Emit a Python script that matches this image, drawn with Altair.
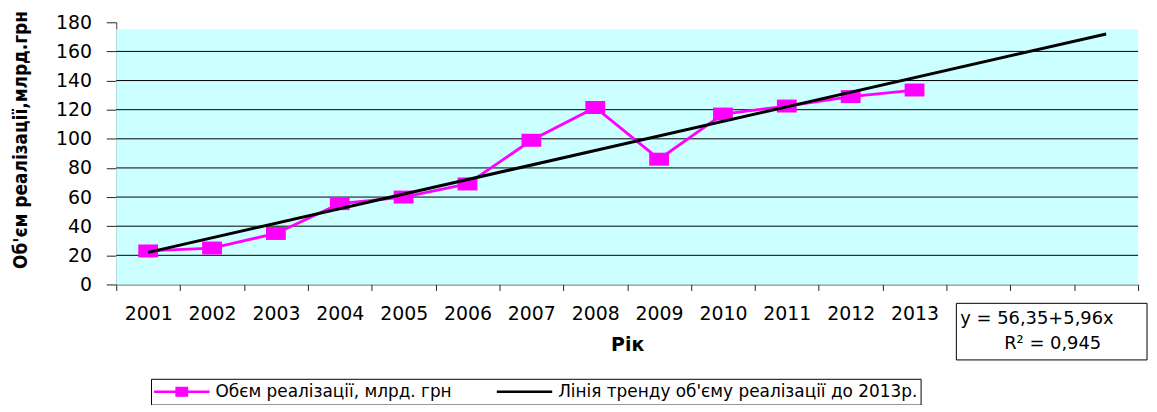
import altair as alt
import pandas as pd

# ---- data ----
years = ["2001", "2002", "2003", "2004", "2005", "2006", "2007", "2008",
         "2009", "2010", "2011", "2012", "2013", "2014", "2015", "2016"]
sale_years = ["2001", "2002", "2003", "2004", "2005", "2006", "2007",
              "2008", "2009", "2010", "2011", "2012", "2013"]
sales = [23, 25, 35, 55.5, 60, 69, 99, 121.5, 86, 117, 122.5, 129, 133.5]
trend_years = ["2001", "2016"]
trend_values = [22, 172]
y_ticks = [0, 20, 40, 60, 80, 100, 120, 140, 160, 180]
grid_values = [20, 40, 60, 80, 100, 120, 140, 160]
series_names = ["Обєм реалізації, млрд. грн",
                "Лінія тренду об'єму реалізації до 2013р."]
eq_line1 = "y = 56,35+5,96x"
eq_line2 = "R² = 0,945"
x_title = "Рік"
y_title = "Об'єм реалізації,млрд.грн"

MAGENTA = "#FF00FF"
W, H = 1029, 264

sales_df = pd.DataFrame({"year": sale_years, "value": sales})
trend_df = pd.DataFrame({"year": trend_years, "value": trend_values})
grid_df = pd.DataFrame({"value": grid_values})
legend_df = pd.DataFrame({"series": series_names})
one = pd.DataFrame({"a": [0]})

x_enc = alt.X(
    "year:O",
    scale=alt.Scale(domain=years, paddingInner=0, paddingOuter=0),
    axis=alt.Axis(
        title=x_title, tickBand="extent", tickSize=6, tickColor="#222222",
        domainColor="#404040", labelAngle=0, labelPadding=14,
        labelFont="DejaVu Sans", labelFontSize=19, labelColor="black",
        labelOverlap=False,
        labelExpr="toNumber(datum.value) <= 2013 ? datum.label : ''",
        grid=False, titleFont="DejaVu Sans", titleFontWeight="bold",
        titleFontSize=19, titleColor="black", titleY=61, titleBaseline="middle",
    ),
)
y_enc = alt.Y(
    "value:Q",
    scale=alt.Scale(domain=[0, 180], nice=False, zero=True),
    axis=alt.Axis(
        title=y_title, values=y_ticks, grid=False, tickSize=10,
        tickColor="#222222", domainColor="#404040", labelPadding=15,
        labelFont="DejaVu Sans", labelFontSize=19, labelColor="black",
        titleFont="Liberation Sans Narrow, DejaVu Sans Condensed, sans-serif",
        titleFontWeight="bold", titleFontSize=19, titleColor="black",
        titleX=-96, titleY=118, titleBaseline="middle", titleAlign="center",
    ),
)

bg = alt.Chart(one).mark_rect(color="#CCFFFF").encode(
    x=alt.value(0), x2=alt.value(W), y=alt.value(7), y2=alt.value(H)
)
grid = alt.Chart(grid_df).mark_rule(color="black", strokeWidth=1).encode(y=y_enc)
line = alt.Chart(sales_df).mark_line(color=MAGENTA, strokeWidth=2.8).encode(x=x_enc, y=y_enc)
pts = alt.Chart(sales_df).mark_point(
    shape="M-1.33,-0.87H1.33V0.87H-1.33Z", filled=True, size=225,
    color=MAGENTA, opacity=1,
).encode(x=x_enc, y=y_enc)
trend = alt.Chart(trend_df).mark_line(color="black", strokeWidth=3).encode(x=x_enc, y=y_enc)

leg = alt.Legend(
    orient="none", legendX=35, legendY=359, direction="horizontal", title=None,
    strokeColor="black", fillColor="white", padding=3, clipHeight=20,
    labelFont="DejaVu Sans", labelFontSize=17, labelColor="black",
    labelLimit=1000, symbolSize=3136, labelOffset=6, columnPadding=45,
    symbolStrokeWidth=0,
)
sym_paths = [
    "M-1,-0.045H1V0.045H-1Z M-0.23,-0.18H0.23V0.18H-0.23Z",
    "M-1,-0.045H1V0.045H-1Z",
]
legend_layer = alt.Chart(legend_df).transform_filter("false").mark_point(
    filled=True, opacity=1
).encode(
    color=alt.Color("series:N", scale=alt.Scale(domain=series_names, range=[MAGENTA, "black"]), legend=leg),
    shape=alt.Shape("series:N", scale=alt.Scale(domain=series_names, range=sym_paths), legend=leg),
)

eq_box = alt.Chart(one).mark_rect(fill="white", stroke="black", strokeWidth=1).encode(
    x=alt.value(846), x2=alt.value(1038), y=alt.value(283), y2=alt.value(340)
)
eq_t1 = alt.Chart(one).mark_text(
    font="DejaVu Sans", fontSize=18, align="left", baseline="middle", color="black"
).encode(x=alt.value(850), y=alt.value(299), text=alt.value(eq_line1))
eq_t2 = alt.Chart(one).mark_text(
    font="DejaVu Sans", fontSize=18, align="center", baseline="middle", color="black"
).encode(x=alt.value(943), y=alt.value(324), text=alt.value(eq_line2))

chart = alt.layer(bg, grid, line, pts, trend, legend_layer, eq_box, eq_t1, eq_t2).properties(
    width=W, height=H,
    padding={"left": 109, "top": 13, "right": 11, "bottom": 120},
    autosize=alt.AutoSizeParams(type="none"),
).configure_view(stroke=None)

chart.save("out.html", embed_options={"renderer": "svg", "actions": False})
